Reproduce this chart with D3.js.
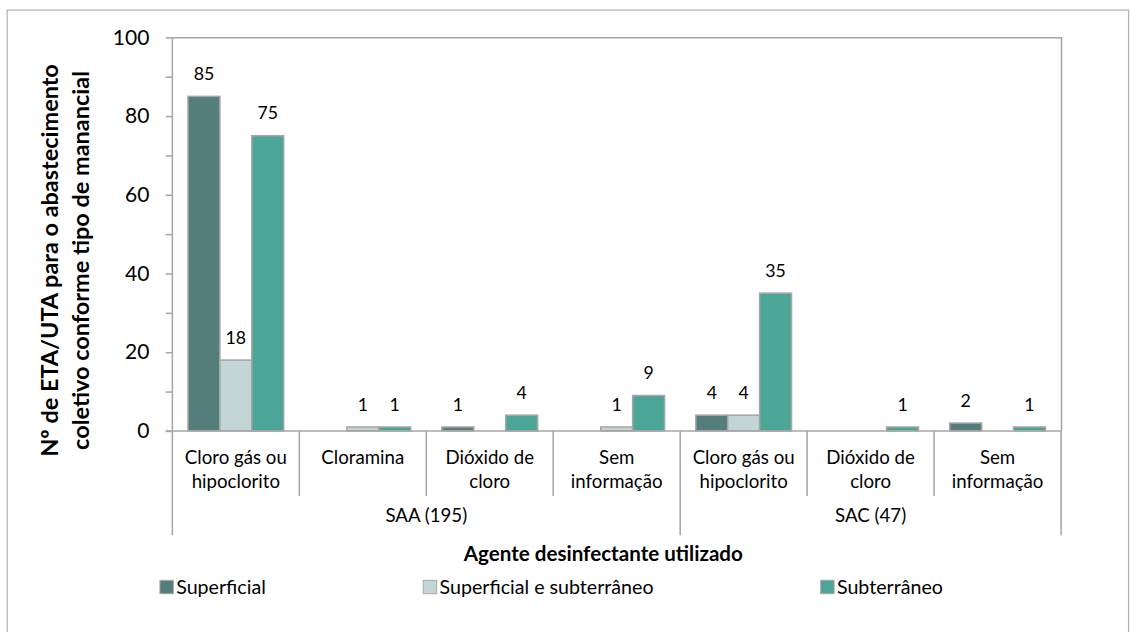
<!DOCTYPE html>
<html>
<head>
<meta charset="utf-8">
<script src="https://cdn.jsdelivr.net/npm/d3@7"></script>
<style>
  html, body { margin: 0; padding: 0; background: #fff; }
  svg { display: block; font-family: Lato, "Open Sans", sans-serif; }
</style>
</head>
<body>
<svg id="chart" width="1130" height="632"></svg>
<script>
// Disinfecting agents, grouped by system type
const categories = [
  "Cloro gás ou\nhipoclorito",
  "Cloramina",
  "Dióxido de\ncloro",
  "Sem\ninformação",
  "Cloro gás ou\nhipoclorito",
  "Dióxido de\ncloro",
  "Sem\ninformação"
];
const groups = [
  { label: "SAA (195)", from: 0, to: 3 },
  { label: "SAC (47)", from: 4, to: 6 }
];
const seriesNames = ["Superficial", "Superficial e subterrâneo", "Subterrâneo"];
const superficial = [85, 0, 1, 0, 4, 0, 2];
const superficialSubterraneo = [18, 1, 0, 1, 4, 0, 0];
const subterraneo = [75, 1, 4, 9, 35, 1, 1];
const yTicks = [0, 10, 20, 30, 40, 50, 60, 70, 80, 90, 100];
const yTitleLines = ["Nº de ETA/UTA para o abastecimento", "coletivo conforme tipo de manancial"];
const xTitle = "Agente desinfectante utilizado";

const seriesValues = [superficial, superficialSubterraneo, subterraneo];
const colors = ["#537e7b", "#c2d7d5", "#4ba698"];
const gridGray = "#a6a6a6";

// The layout is designed on a 1180-wide canvas and scaled to the page
const designWidth = 1180;
const k = 1130 / designWidth;
const svg = d3.select("#chart").append("g").attr("transform", `scale(${k})`);
const plot = { left: 180, right: 1108, top: 39, bottom: 450 };

// Outer chart frame
svg.append("rect")
  .attr("x", 7.5).attr("y", 10.5)
  .attr("width", 1171).attr("height", 670)
  .attr("fill", "none").attr("stroke", "#b3b3b3").attr("stroke-width", 1.3);

const x0 = d3.scaleBand()
  .domain(d3.range(categories.length))
  .range([plot.left, plot.right])
  .paddingInner(0).paddingOuter(0);

const x1 = d3.scaleBand()
  .domain(d3.range(seriesNames.length))
  .range([0, x0.bandwidth()])
  .paddingInner(0).paddingOuter(0.49);

const y = d3.scaleLinear().domain([0, 100]).range([plot.bottom, plot.top]);

// Plot area border (top and right)
svg.append("path")
  .attr("d", `M${plot.left},${plot.top + 0.5}H${plot.right + 0.5}V${plot.bottom}`)
  .attr("fill", "none").attr("stroke", gridGray).attr("stroke-width", 1.6);

// Y axis
const yAxis = d3.axisLeft(y)
  .tickValues(yTicks)
  .tickSize(7)
  .tickPadding(17)
  .tickFormat(d => d % 20 === 0 ? d : "");
const yg = svg.append("g")
  .attr("transform", `translate(${plot.left},0)`)
  .call(yAxis);
yg.select(".domain").remove();
yg.selectAll(".tick line").attr("stroke", gridGray).attr("stroke-width", 1.6);
yg.selectAll(".tick text")
  .attr("fill", "#000").style("font-size", "22px").style("font-family", "Lato, sans-serif");

// Left axis line running down through the category rows
svg.append("line")
  .attr("x1", plot.left).attr("x2", plot.left)
  .attr("y1", plot.top).attr("y2", 559)
  .attr("stroke", gridGray).attr("stroke-width", 1.6);

// Bars
const barG = svg.append("g");
seriesValues.forEach((vals, s) => {
  const pts = vals.map((v, i) => ({ v, i })).filter(d => d.v > 0);
  barG.selectAll(null)
    .data(pts)
    .join("rect")
    .attr("x", d => x0(d.i) + x1(s))
    .attr("y", d => y(d.v))
    .attr("width", x1.bandwidth())
    .attr("height", d => y(0) - y(d.v))
    .attr("fill", colors[s])
    .attr("stroke", gridGray)
    .attr("stroke-width", 1.6);

  // Value labels
  barG.selectAll(null)
    .data(pts)
    .join("text")
    .attr("x", d => x0(d.i) + x1(s) + x1.bandwidth() / 2)
    .attr("y", d => y(d.v) - 17)
    .attr("text-anchor", "middle")
    .style("font-size", "18.5px")
    .attr("fill", "#000")
    .text(d => d.v);
});

// Zero baseline
svg.append("line")
  .attr("x1", plot.left - 7).attr("x2", plot.right)
  .attr("y1", plot.bottom).attr("y2", plot.bottom)
  .attr("stroke", gridGray).attr("stroke-width", 1.6);

// Category separators
d3.range(1, categories.length).forEach(i => {
  const isGroupEdge = groups.some(g => g.from === i);
  svg.append("line")
    .attr("x1", x0(i)).attr("x2", x0(i))
    .attr("y1", plot.bottom).attr("y2", isGroupEdge ? 559 : 518)
    .attr("stroke", gridGray).attr("stroke-width", 1.6);
});
svg.append("line")
  .attr("x1", plot.right).attr("x2", plot.right)
  .attr("y1", plot.bottom).attr("y2", 559)
  .attr("stroke", gridGray).attr("stroke-width", 1.6);

// Category labels
categories.forEach((c, i) => {
  const cx = x0(i) + x0.bandwidth() / 2;
  const t = svg.append("text")
    .attr("x", cx)
    .attr("y", 485)
    .attr("text-anchor", "middle")
    .style("font-size", "19.5px")
    .attr("fill", "#000");
  c.split("\n").forEach((line, j) => {
    t.append("tspan")
      .attr("x", cx)
      .attr("dy", j === 0 ? 0 : 25)
      .text(line);
  });
});

// Group labels
groups.forEach(g => {
  const cx = (x0(g.from) + x0(g.to) + x0.bandwidth()) / 2;
  svg.append("text")
    .attr("x", cx).attr("y", 545)
    .attr("text-anchor", "middle")
    .style("font-size", "19.5px")
    .attr("fill", "#000")
    .text(g.label);
});

// X axis title
svg.append("text")
  .attr("x", 630).attr("y", 586)
  .attr("text-anchor", "middle")
  .style("font-size", "21.5px").style("font-weight", "bold")
  .attr("fill", "#000")
  .text(xTitle);

// Y axis title
const yt = svg.append("text")
  .attr("transform", "translate(61,272) rotate(-90)")
  .attr("text-anchor", "middle")
  .style("font-size", "24.5px").style("font-weight", "bold")
  .attr("fill", "#000");
yTitleLines.forEach((line, j) => {
  yt.append("tspan").attr("x", 0).attr("dy", j === 0 ? 0 : 32).text(line);
});

// Legend
const legendX = [167, 442, 857];
seriesNames.forEach((name, s) => {
  const g = svg.append("g").attr("transform", `translate(${legendX[s]},613)`);
  g.append("rect")
    .attr("x", 0).attr("y", -7).attr("width", 14).attr("height", 14)
    .attr("fill", colors[s]).attr("stroke", gridGray).attr("stroke-width", 1);
  g.append("text")
    .attr("x", 17).attr("y", 7.5)
    .style("font-size", "20.5px")
    .attr("fill", "#000")
    .text(name);
});
</script>
</body>
</html>
